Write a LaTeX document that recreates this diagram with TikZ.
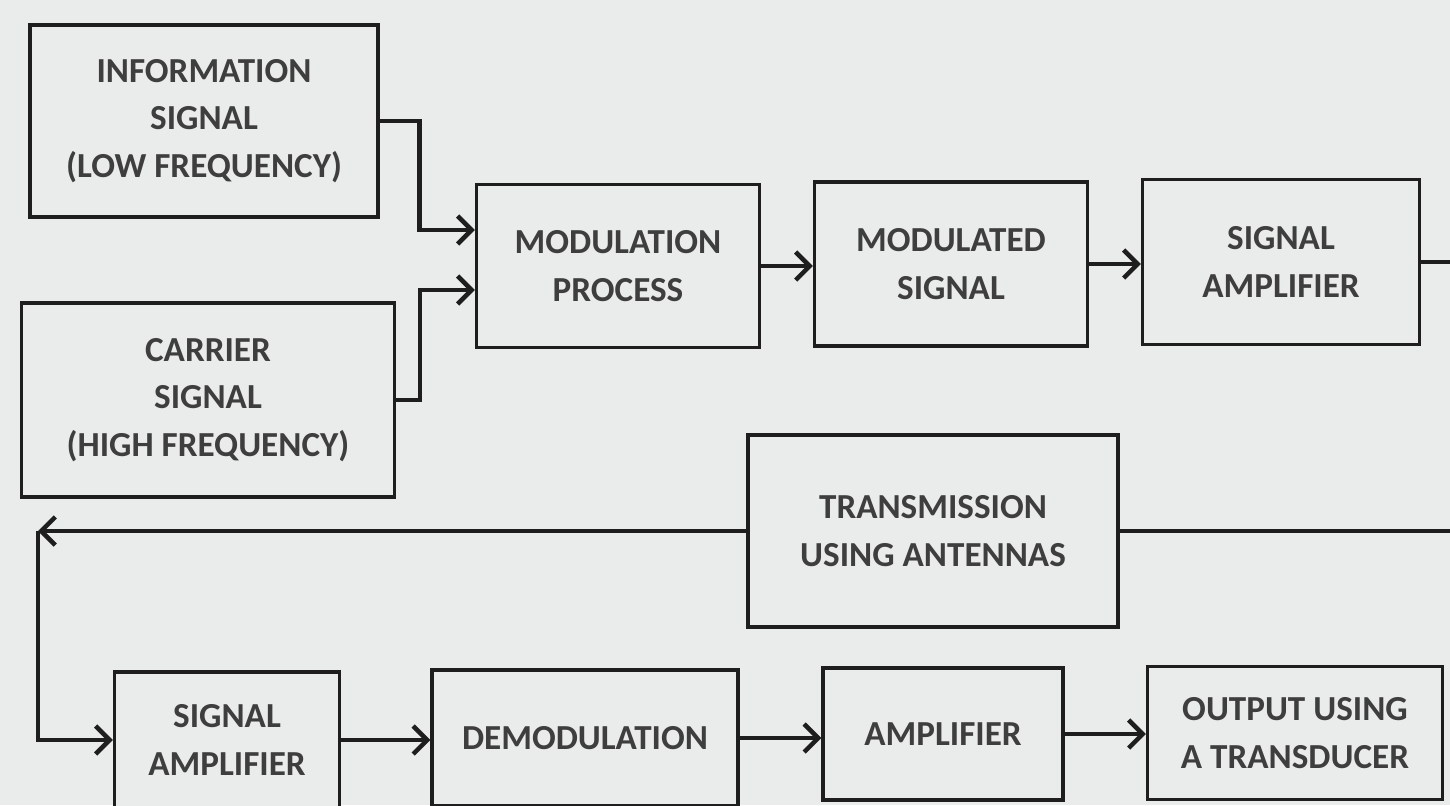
\documentclass[tikz,border=0pt]{standalone}
\usepackage{fontspec}
\setmainfont{Carlito}
\usetikzlibrary{arrows.meta,calc}
\definecolor{paper}{RGB}{234,236,236}
\definecolor{ink}{RGB}{30,30,30}
\definecolor{print}{RGB}{62,62,62}

\begin{document}
\begin{tikzpicture}[x=0.02cm, y=-0.02cm,
  >={Straight Barb[length=8pt,width=16pt,line width=2.6pt]}, line width=2.5pt, draw=ink,
  % blocks of the chain
  block/.style={draw=ink, line width=1.8pt, fill=paper, align=center, inner sep=0pt,
                font=\fontsize{20}{27}\selectfont\bfseries, text=print}
]
  \useasboundingbox (0,0) rectangle (1450,805);
  \fill[paper] (0,0) rectangle (1450,805);

  % Sources
  \node[block, minimum width=6.96cm, minimum height=3.84cm] (info) at (204,121)
       {INFORMATION\\SIGNAL\\(LOW FREQUENCY)};
  \node[block, minimum width=7.46cm, minimum height=3.88cm] (carrier) at (208,400)
       {CARRIER\\SIGNAL\\(HIGH FREQUENCY)};

  % Top row
  \node[block, minimum width=5.66cm, minimum height=3.26cm] (modproc) at (618,266)
       {MODULATION\\PROCESS};
  \node[block, minimum width=5.46cm, minimum height=3.28cm] (modsig) at (951,264)
       {MODULATED\\SIGNAL};
  \node[block, minimum width=5.54cm, minimum height=3.30cm] (sigamp) at (1281,262)
       {SIGNAL\\AMPLIFIER};

  % Middle
  \node[block, minimum width=7.40cm, minimum height=3.84cm] (trans) at (933,531)
       {TRANSMISSION\\USING ANTENNAS};

  % Bottom row
  \node[block, minimum width=4.50cm, minimum height=2.72cm] (sigamp2) at (227,740)
       {SIGNAL\\AMPLIFIER};
  \node[block, minimum width=6.12cm, minimum height=2.72cm] (demod) at (585,738)
       {DEMODULATION};
  \node[block, minimum width=4.80cm, minimum height=2.64cm] (amp) at (943,734)
       {AMPLIFIER};
  \node[block, minimum width=5.90cm, minimum height=2.66cm] (output) at (1295,733)
       {OUTPUT USING\\A TRANSDUCER};

  % free ends
  \coordinate (rightedge) at (1450,0);
  \coordinate (leftrail) at (38,0);

  % --- into the modulator ---
  \draw[->] (info.east) -- ++(40,0) |- ($(modproc.west)+(0,-36)$);
  \draw[->] (carrier.east) -- ++(24,0) |- ($(modproc.west)+(0,24)$);

  % --- top chain ---
  \draw[->] (modproc.east) -- (modproc.east -| modsig.west);
  \draw[->] (modsig.east) -- (modsig.east -| sigamp.west);
  \draw (sigamp.east) -- (sigamp.east -| rightedge);

  % --- transmission ---
  \draw (trans.east) -- (trans.east -| rightedge);
  \draw[->] (trans.west) -- (trans.west -| leftrail);
  \draw[->] (trans.west -| leftrail) |- (sigamp2.west);

  % --- bottom chain ---
  \draw[->] (sigamp2.east) -- (sigamp2.east -| demod.west);
  \draw[->] (demod.east) -- (demod.east -| amp.west);
  \draw[->] (amp.east) -- (amp.east -| output.west);

\end{tikzpicture}
\end{document}
